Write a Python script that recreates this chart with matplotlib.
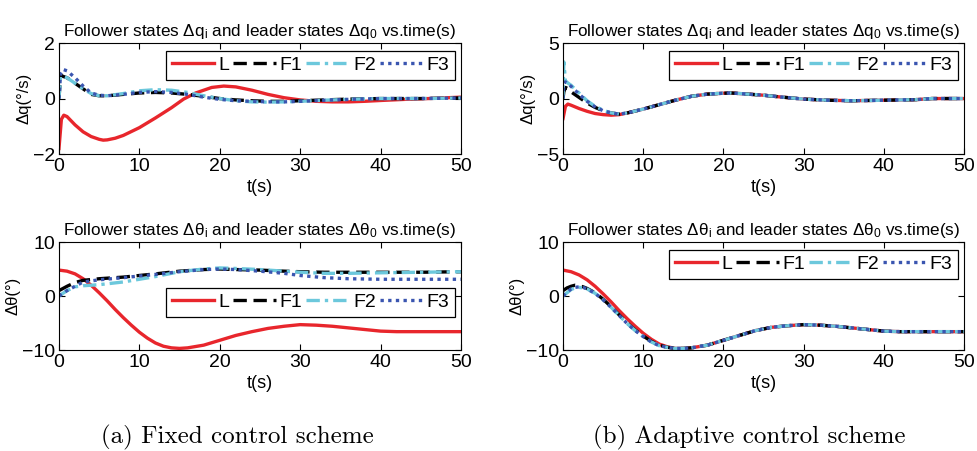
import matplotlib
matplotlib.use('Agg')
import matplotlib.pyplot as plt

plt.rcParams['font.family'] = ['Liberation Sans', 'DejaVu Sans']
plt.rcParams['mathtext.default'] = 'regular'

# ---- data ----
# (a) fixed scheme, delta q
tq_L = [0, 0.3, 0.6, 1, 2, 3, 4, 5, 5.5, 6, 7, 8, 10, 12, 14, 15.5, 17, 19, 20.5, 22, 24, 26, 28, 30, 32, 34, 36, 38, 40, 43, 46, 50]
fq_L = [-1.8, -0.75, -0.6, -0.65, -0.95, -1.2, -1.37, -1.47, -1.5, -1.49, -1.43, -1.33, -1.05, -0.7, -0.33, -0.02, 0.2, 0.4, 0.45, 0.42, 0.3, 0.15, 0.03, -0.05, -0.1, -0.12, -0.12, -0.1, -0.07, -0.03, 0.0, 0.05]
tq_F = [0, 0.2, 0.5, 1, 2, 3, 4, 5, 6, 8, 10, 12, 14, 16, 18, 20, 22, 24, 26, 28, 30, 33, 36, 40, 45, 50]
fq_F1 = [0.0, 0.85, 0.8, 0.75, 0.55, 0.35, 0.15, 0.1, 0.1, 0.15, 0.2, 0.22, 0.2, 0.15, 0.08, 0.0, -0.05, -0.08, -0.1, -0.1, -0.08, -0.05, -0.02, 0.0, 0.0, 0.02]
fq_F2 = [0.0, 0.8, 0.8, 0.75, 0.55, 0.35, 0.18, 0.1, 0.1, 0.18, 0.28, 0.32, 0.3, 0.22, 0.1, 0.0, -0.08, -0.12, -0.13, -0.12, -0.1, -0.06, -0.03, 0.0, 0.0, 0.02]
fq_F3 = [0.0, 0.9, 1.05, 1.0, 0.75, 0.45, 0.2, 0.12, 0.1, 0.15, 0.22, 0.25, 0.22, 0.15, 0.05, -0.03, -0.08, -0.1, -0.12, -0.12, -0.1, -0.06, -0.03, 0.0, 0.0, 0.02]

# (b) adaptive scheme, delta q
ta_L = [0, 0.3, 0.6, 1, 2, 3, 4, 5, 6, 7, 8, 10, 12, 14, 16, 18, 20, 21, 23, 25, 27, 30, 33, 36, 40, 44, 46, 50]
aq_L = [-1.8, -0.7, -0.5, -0.6, -0.9, -1.15, -1.35, -1.45, -1.5, -1.45, -1.3, -0.95, -0.55, -0.15, 0.2, 0.4, 0.48, 0.5, 0.4, 0.3, 0.15, -0.05, -0.15, -0.2, -0.15, -0.1, 0.0, 0.0]
ta_F = [0, 0.1, 0.3, 0.6, 1, 2, 3, 4, 5, 6, 7, 8, 10, 12, 14, 16, 18, 20, 21, 23, 25, 27, 30, 33, 36, 40, 44, 46, 50]
aq_F1 = [0.0, 0.6, 1.0, 0.9, 0.6, 0.1, -0.4, -0.8, -1.1, -1.3, -1.4, -1.3, -0.95, -0.55, -0.15, 0.2, 0.4, 0.48, 0.5, 0.4, 0.3, 0.15, -0.05, -0.15, -0.2, -0.15, -0.1, 0.0, 0.0]
aq_F2 = [0.0, 3.3, 1.6, 1.4, 1.2, 0.5, -0.2, -0.7, -1.05, -1.3, -1.4, -1.3, -0.95, -0.55, -0.15, 0.2, 0.4, 0.48, 0.5, 0.4, 0.3, 0.15, -0.05, -0.15, -0.2, -0.15, -0.1, 0.0, 0.0]
aq_F3 = [0.0, 1.4, 1.5, 1.3, 1.1, 0.4, -0.25, -0.75, -1.1, -1.3, -1.4, -1.3, -0.95, -0.55, -0.15, 0.2, 0.4, 0.48, 0.5, 0.4, 0.3, 0.15, -0.05, -0.15, -0.2, -0.15, -0.1, 0.0, 0.0]

# (a) fixed scheme, delta theta
tt_L = [0, 1, 2, 3, 4, 5, 6, 7, 8, 9, 10, 11, 12, 13, 14, 15, 16, 18, 20, 22, 24, 26, 28, 30, 32, 34, 36, 38, 40, 42, 45, 50]
ft_L = [4.8, 4.6, 4.1, 3.2, 2.0, 0.6, -0.9, -2.5, -4.0, -5.4, -6.7, -7.8, -8.7, -9.3, -9.6, -9.7, -9.6, -9.1, -8.2, -7.3, -6.6, -6.0, -5.6, -5.3, -5.4, -5.6, -5.9, -6.2, -6.5, -6.6, -6.6, -6.6]
tt_F = [0, 1, 2, 3, 5, 8, 10, 12, 15, 18, 20, 22, 25, 28, 30, 33, 36, 40, 45, 50]
ft_F1 = [1.0, 1.8, 2.5, 2.9, 3.2, 3.5, 3.8, 4.1, 4.6, 4.9, 5.0, 4.9, 4.8, 4.6, 4.5, 4.4, 4.4, 4.4, 4.4, 4.5]
ft_F2 = [0.0, 1.0, 1.7, 1.9, 2.1, 2.6, 3.1, 3.6, 4.5, 5.0, 5.2, 5.1, 4.9, 4.6, 4.4, 4.2, 4.2, 4.3, 4.4, 4.5]
ft_F3 = [0.0, 1.0, 1.8, 2.6, 3.0, 3.4, 3.7, 4.0, 4.5, 4.9, 5.0, 4.9, 4.6, 4.2, 3.8, 3.4, 3.2, 3.1, 3.1, 3.1]

# (b) adaptive scheme, delta theta
ta_tL = [0, 1, 2, 3, 4, 5, 6, 7, 8, 9, 10, 11, 12, 13, 14, 15, 16, 18, 20, 22, 24, 26, 28, 30, 32, 34, 36, 38, 40, 42, 45, 50]
at_L = [4.8, 4.5, 3.9, 3.0, 1.8, 0.4, -1.1, -2.7, -4.2, -5.6, -6.9, -8.0, -8.9, -9.4, -9.7, -9.7, -9.6, -9.1, -8.2, -7.3, -6.4, -5.8, -5.5, -5.3, -5.4, -5.6, -5.9, -6.2, -6.5, -6.6, -6.6, -6.6]
ta_tF = [0, 0.5, 1, 1.5, 2, 2.5, 3, 4, 5, 6, 7, 8, 9, 10, 11, 12, 13, 14, 15, 16, 18, 20, 22, 24, 26, 28, 30, 32, 34, 36, 38, 40, 42, 45, 50]
at_F1 = [1.0, 1.5, 1.8, 2.0, 1.9, 1.7, 1.4, 0.6, -0.6, -2.0, -3.5, -5.0, -6.3, -7.4, -8.4, -9.1, -9.5, -9.7, -9.7, -9.6, -9.1, -8.2, -7.3, -6.4, -5.8, -5.5, -5.3, -5.4, -5.6, -5.9, -6.2, -6.5, -6.6, -6.6, -6.6]
at_F2 = [0.0, 0.6, 1.2, 1.5, 1.6, 1.5, 1.3, 0.5, -0.7, -2.1, -3.6, -5.1, -6.4, -7.5, -8.5, -9.2, -9.5, -9.7, -9.7, -9.6, -9.1, -8.2, -7.3, -6.4, -5.8, -5.5, -5.3, -5.4, -5.6, -5.9, -6.2, -6.5, -6.6, -6.6, -6.6]
at_F3 = [0.0, 0.7, 1.3, 1.6, 1.7, 1.6, 1.3, 0.5, -0.7, -2.1, -3.6, -5.1, -6.4, -7.5, -8.5, -9.2, -9.5, -9.7, -9.7, -9.6, -9.1, -8.2, -7.3, -6.4, -5.8, -5.5, -5.3, -5.4, -5.6, -5.9, -6.2, -6.5, -6.6, -6.6, -6.6]

labels = ['L', 'F1', 'F2', 'F3']
colors = ['#e8262c', '#000000', '#6cc8dc', '#3a55b0']
styles = ['-', (0, (4, 2)), (0, (4, 1.5, 1, 1.5)), (0, (1, 1.3))]

title_q = 'Follower states Δq$_i$ and leader states Δq$_0$ vs.time(s)'
title_t = 'Follower states Δθ$_i$ and leader states Δθ$_0$ vs.time(s)'

fig = plt.figure(figsize=(9.78, 4.51), dpi=100)
ax1 = fig.add_axes([0.0603, 0.6585, 0.411, 0.246])
ax2 = fig.add_axes([0.5757, 0.6585, 0.410, 0.246])
ax3 = fig.add_axes([0.0603, 0.2239, 0.411, 0.2395])
ax4 = fig.add_axes([0.5757, 0.2239, 0.410, 0.2395])

panels = [
    (ax1, [(tq_L, fq_L), (tq_F, fq_F1), (tq_F, fq_F2), (tq_F, fq_F3)], (-2, 2), [-2, 0, 2], title_q, 'Δq(°/s)'),
    (ax2, [(ta_L, aq_L), (ta_F, aq_F1), (ta_F, aq_F2), (ta_F, aq_F3)], (-5, 5), [-5, 0, 5], title_q, 'Δq(°/s)'),
    (ax3, [(tt_L, ft_L), (tt_F, ft_F1), (tt_F, ft_F2), (tt_F, ft_F3)], (-10, 10), [-10, 0, 10], title_t, 'Δθ(°)'),
    (ax4, [(ta_tL, at_L), (ta_tF, at_F1), (ta_tF, at_F2), (ta_tF, at_F3)], (-10, 10), [-10, 0, 10], title_t, 'Δθ(°)'),
]

for i, (ax, series, yl, yt, ttl, ylab) in enumerate(panels):
    for (t, v), lab, c, ls in zip(series, labels, colors, styles):
        ax.plot(t, v, color=c, linestyle=ls, linewidth=2.4, label=lab)
    ax.set_xlim(0, 50)
    ax.set_ylim(*yl)
    ax.set_xticks([0, 10, 20, 30, 40, 50])
    ax.set_yticks(yt)
    ax.tick_params(direction='in', top=True, right=True, labelsize=14, length=4, pad=3)
    ax.set_title(ttl, fontsize=12.3, pad=5)
    ax.set_xlabel('t(s)', fontsize=13, labelpad=3)
    ax.set_ylabel(ylab, fontsize=12, labelpad=1)
    kw = dict(ncol=4, fontsize=14, handlelength=2.2, columnspacing=0.2, handletextpad=0.2,
              borderpad=0.3, borderaxespad=0, fancybox=False, framealpha=1)
    if i == 2:
        leg = ax.legend(loc='lower right', bbox_to_anchor=(0.985, 0.305), **kw)
    else:
        leg = ax.legend(loc='upper right', bbox_to_anchor=(0.985, 0.93), **kw)
    leg.get_frame().set_edgecolor('black')
    leg.get_frame().set_linewidth(0.9)

fig.text(0.243, 0.031, '(a) Fixed control scheme', fontsize=18, family='cmr10', ha='center', va='center')
fig.text(0.766, 0.031, '(b) Adaptive control scheme', fontsize=18, family='cmr10', ha='center', va='center')

fig.savefig('out.png', dpi=100)
